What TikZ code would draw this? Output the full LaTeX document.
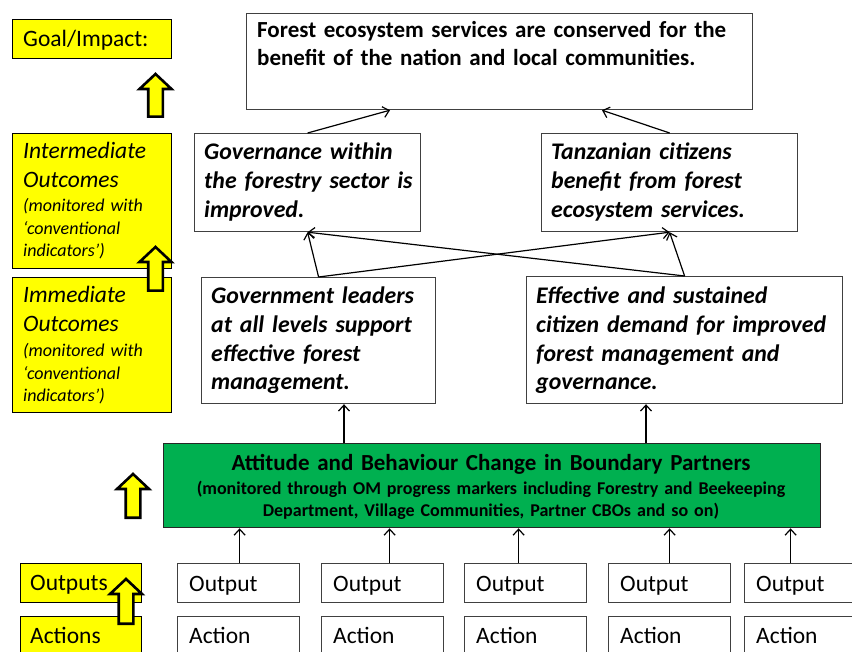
\documentclass[tikz,border=0pt]{standalone}
\usepackage{fontspec}
\setmainfont{Carlito}
\usetikzlibrary{arrows.meta,calc}
\definecolor{ygold}{HTML}{FFFF00}
\definecolor{ogreen}{HTML}{00B050}
\definecolor{edge}{HTML}{404040}
\newcommand\yarrow[3]{\draw[yarr] (#1,{#2+2}) -- ({#1+16},{#2+17}) -- ({#1+7.3},{#2+17}) -- ({#1+7.3},{#3-1.3}) -- ({#1-7.3},{#3-1.3}) -- ({#1-7.3},{#2+17}) -- ({#1-16},{#2+17}) -- cycle;}
\tikzset{
  big/.style={font=\fontsize{23.5}{28.4}\selectfont},
  bigi/.style={font=\fontsize{23.5}{29}\selectfont\itshape},
  smalli/.style={font=\fontsize{18}{22.3}\selectfont\itshape},
  bigbi/.style={font=\fontsize{23.8}{28.6}\selectfont\bfseries\itshape},
  bigb/.style={font=\fontsize{23}{27.5}\selectfont\bfseries},
  smallb/.style={font=\fontsize{18}{22}\selectfont\bfseries},
  wbox/.style={draw=edge, line width=1.2pt, fill=white, anchor=north west, inner sep=0pt},
  ybox/.style={draw=black, line width=1.2pt, fill=ygold, anchor=north west, inner sep=0pt},
  gbox/.style={draw=black!85, line width=1.3pt, fill=ogreen, anchor=north west, inner sep=0pt},
  txt/.style={anchor=base west, inner sep=0pt, text width=#1, align=left},
  txt/.default=600pt,
  ctxt/.style={anchor=base, inner sep=0pt, text width=650pt, align=center},
  arr/.style={draw=black, line width=1.2pt, -{Straight Barb[length=6pt,width=11pt,line width=1.2pt]}},
  yarr/.style={draw=black, fill=ygold, line width=2.6pt, line join=miter},
}
\begin{document}
\begin{tikzpicture}[x=1pt,y=-1pt]
\useasboundingbox (0,0) rectangle (852,652);
\clip (0,0) rectangle (852,652);

% ---- yellow level labels ----
\node[ybox, minimum width=159pt, minimum height=39pt] (yGoal) at (12,19) {};
\node[txt, big] (yGoalT) at (23,47) {Goal/Impact:};
\node[ybox, minimum width=159pt, minimum height=135pt] (yInt) at (12,133) {};
\node[txt, bigi] (yIntT) at (23,159) {Intermediate\\Outcomes};
\node[txt, smalli] (yIntS) at (23,212) {(monitored with\\‘conventional\\indicators’)};
\node[ybox, minimum width=159pt, minimum height=135pt] (yImm) at (12,277) {};
\node[txt, bigi] (yImmT) at (23,303) {Immediate\\Outcomes};
\node[txt, smalli] (yImmS) at (23,357) {(monitored with\\‘conventional\\indicators’)};
\node[ybox, minimum width=121pt, minimum height=39pt] (yOut) at (20,563) {};
\node[txt, big] (yOutT) at (30,590) {Outputs};
\node[ybox, minimum width=121pt, minimum height=45pt] (yAct) at (20,616) {};
\node[txt, big] (yActT) at (30,643) {Actions};

% ---- yellow block arrows ----
\yarrow{155.5}{72}{118}
\yarrow{155.5}{245}{292}
\yarrow{133}{472}{519}
\yarrow{126}{577}{625}

% ---- result chain ----
\node[wbox, minimum width=506pt, minimum height=96pt] (goal) at (246,13) {};
\node[txt, bigb] (goalT) at (257,38) {Forest ecosystem services are conserved for the\\benefit of the nation and local communities.};

\node[wbox, minimum width=226pt, minimum height=98pt] (gov) at (194,133) {};
\node[txt, bigbi] (govT) at (204,160) {Governance within\\the forestry sector is\\improved.};
\node[wbox, minimum width=256pt, minimum height=98pt] (tan) at (541,133) {};
\node[txt, bigbi] (tanT) at (551,160) {Tanzanian citizens\\benefit from forest\\ecosystem services.};

\node[wbox, minimum width=234pt, minimum height=126pt] (gl) at (201,277) {};
\node[txt, bigbi] (glT) at (211,304) {Government leaders\\at all levels support\\effective forest\\management.};
\node[wbox, minimum width=316pt, minimum height=127pt] (eff) at (526,276) {};
\node[txt, bigbi] (effT) at (536,304) {Effective and sustained\\citizen demand for improved\\forest management and\\governance.};

\node[gbox, minimum width=657pt, minimum height=84pt] (green) at (163,443) {};
\node[ctxt, bigb] (greenT) at (491,471) {Attitude and Behaviour Change in Boundary Partners};
\node[ctxt, smallb] (greenS) at (491,494) {(monitored through OM progress markers including Forestry and Beekeeping\\Department, Village Communities, Partner CBOs and so on)};

% outputs and actions
\foreach \i/\l in {1/177,2/321,3/464,4/608,5/744}{
  \node[wbox, minimum width=122pt, minimum height=39pt] (out\i) at (\l,563) {};
  \node[txt, big] (out\i T) at ({\l+12},591) {Output};
  \node[wbox, minimum width=122pt, minimum height=48pt] (act\i) at (\l,616) {};
  \node[txt, big] (act\i T) at ({\l+12},643) {Action};
}

% ---- connectors ----
\coordinate (goalInL) at ($(goal.south west)+(144,0)$);
\coordinate (goalInR) at ($(goal.south west)+(356,0)$);
\draw[arr] (gov.north) -- (goalInL);
\draw[arr] (tan.north) -- (goalInR);
\draw[arr] (gl.north) -- (gov.south);
\draw[arr] (gl.north) -- (tan.south);
\draw[arr] (eff.north) -- (gov.south);
\draw[arr] (eff.north) -- (tan.south);
\coordinate (glIn) at ($(gl.south west)+(143,0)$);
\coordinate (effIn) at ($(eff.south west)+(120,0)$);
\draw[arr] (green.north -| glIn) -- (glIn);
\draw[arr] (green.north -| effIn) -- (effIn);
\foreach \i/\d in {1/1,2/7,3/-7,4/0,5/-15}{
  \coordinate (o\i) at ($(out\i.north)+(\d,0)$);
  \draw[arr] (o\i) -- (green.south -| o\i);
}
\end{tikzpicture}
\end{document}
